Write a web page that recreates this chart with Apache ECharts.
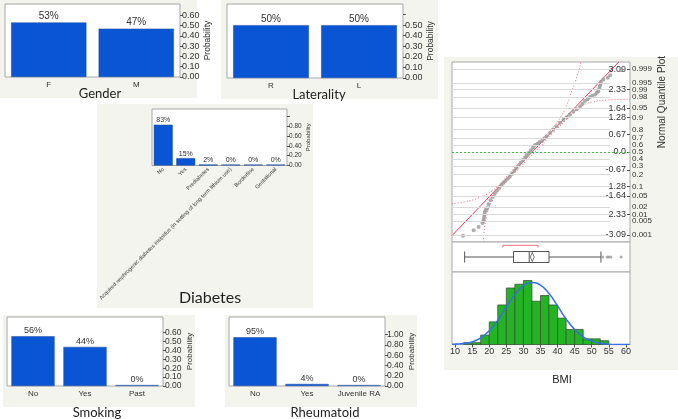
<!DOCTYPE html>
<html>
<head>
<meta charset="utf-8">
<script src="https://cdn.jsdelivr.net/npm/echarts@6/dist/echarts.min.js"></script>
<style>
  html, body { margin: 0; padding: 0; background: #fff; }
  #chart { width: 678px; height: 419px; }
</style>
</head>
<body>
<div id="chart"></div>
<script>
// ---- bar panels: share of patients per category ----
const genderCats = ['F', 'M'];
const genderVals = [0.53, 0.47];
const lateralityCats = ['R', 'L'];
const lateralityVals = [0.50, 0.50];
const diabetesCats = ['No', 'Yes', 'Prediabetes',
  'Acquired nephrogenic diabetes insipidus (in setting of long term lithium use)',
  'Borderline', 'Gestational'];
const diabetesVals = [0.83, 0.15, 0.02, 0, 0, 0];
const smokingCats = ['No', 'Yes', 'Past'];
const smokingVals = [0.56, 0.44, 0];
const rheumCats = ['No', 'Yes', 'Juvenile RA'];
const rheumVals = [0.95, 0.04, 0];

// ---- BMI distribution ----
const bmiTicks = [10, 15, 20, 25, 30, 35, 40, 45, 50, 55, 60];
const binWidth = 2.5;
const binStarts = [12.5, 15, 17.5, 20, 22.5, 25, 27.5, 30, 32.5, 35, 37.5, 40, 42.5, 45, 47.5, 50, 52.5];
const binCounts = [1, 1, 5, 12, 21, 30, 32, 34, 23, 26, 21, 14, 8, 8, 3, 3, 2];
// fitted normal curve (x, height in count units)
const curveX = [9.1, 10, 12.5, 15, 17.5, 20, 22.5, 25, 27.5, 30, 32.5, 35, 37.5, 40, 42.5, 45, 47.5, 50, 52.5, 55, 57.5, 61.2];
const curveY = [0.1, 0.2, 0.5, 1.4, 3.5, 7.3, 12.9, 20, 26.5, 31.3, 32.9, 31.5, 27.1, 20.5, 13.5, 8, 4.1, 1.9, 0.7, 0.2, 0.05, 0];
// outlier box plot
const boxStats = [12.8, 27.1, 31.7, 37.5, 52.7];
const bmiMean = 32.6;
const boxOutliers = [53.2, 54.5, 55.0, 55.6, 58.6];
const shortestHalf = [24.0, 34.3];

// normal quantile plot: sorted BMI vs normal quantile
const qqBmi = [12.3, 15.45, 16.9, 18.0, 18.3, 18.4, 18.5, 18.6, 18.7, 19.0, 19.3, 19.8, 20.4, 21.0, 21.6, 22.2, 22.9, 23.5,
  24.1, 24.7, 25.4, 26.0, 26.6, 27.3, 27.9, 28.6, 29.2, 29.9, 30.5, 31.0, 31.6, 32.2, 32.8, 33.4, 34.1, 34.7, 35.35,
  36.1, 36.8, 37.8, 38.75, 39.7, 40.7, 41.7, 42.7, 43.6, 44.6, 45.6, 46.6, 47.3, 48.0, 48.8, 49.5, 50.2, 51.0, 51.5,
  51.9, 52.2, 52.4, 52.6, 52.7, 53.4, 54.7, 55.4, 58.6];
const qqZ = [-3.13, -2.92, -2.80, -2.65, -2.58, -2.50, -2.42, -2.33, -2.24, -2.17, -2.10, -1.95, -1.80, -1.67, -1.55, -1.45, -1.34, -1.24,
  -1.16, -1.08, -1.00, -0.92, -0.82, -0.71, -0.61, -0.50, -0.40, -0.30, -0.20, -0.11, -0.03, 0.07, 0.16, 0.26, 0.31, 0.36, 0.40,
  0.50, 0.59, 0.72, 0.84, 0.96, 1.09, 1.20, 1.30, 1.40, 1.50, 1.60, 1.71, 1.80, 1.90, 1.97, 2.05, 2.10, 2.15, 2.21,
  2.27, 2.37, 2.46, 2.54, 2.62, 2.71, 2.77, 2.87, 3.05];
const refLine = [[9.1, -3.12], [57.9, 3.36]];
const bandUpper = [[9.0, -1.92], [12.9, -1.86], [16.8, -1.71], [20.7, -1.46], [23.3, -1.17], [25.9, -0.80], [30.0, -0.24],
  [34.3, 0.33], [38.9, 0.95], [41.3, 1.39], [42.9, 1.82], [44.1, 2.26], [45.4, 2.70], [46.3, 3.07], [46.9, 3.38]];
const bandLower = [[18.3, -3.36], [18.6, -2.86], [19.3, -2.36], [20.7, -1.86], [22.9, -1.42], [25.9, -0.99], [30.7, -0.36],
  [34.9, 0.20], [39.1, 0.76], [43.0, 1.26], [45.0, 1.51], [46.8, 1.70], [50.0, 1.86], [54.8, 1.94], [61.2, 1.97]];
const quantTicks = [-3.09, -2.33, -1.64, -1.28, -0.67, 0, 0.67, 1.28, 1.64, 2.33, 3.09];
const probLabels = ['0.001', '0.005', '0.01', '0.02', '0.05', '0.1', '0.2', '0.3', '0.4', '0.5',
  '0.6', '0.7', '0.8', '0.9', '0.95', '0.98', '0.99', '0.995', '0.999'];
const probZ = [-3.090, -2.576, -2.326, -2.054, -1.645, -1.282, -0.842, -0.524, -0.253, 0,
  0.253, 0.524, 0.842, 1.282, 1.645, 2.054, 2.326, 2.576, 3.090];

const BLUE = '#0a55d3';
const PANEL = '#f4f4ef';
const FRAME = '#a8a8a8';
const X_MIN = 9.1, X_MAX = 61.2, Z_LIM = 3.36;

const grids = [], xAxes = [], yAxes = [], series = [];

function barPanel(cats, vals, o) {
  const i = grids.length;
  grids.push({ left: o.left, top: o.top, width: o.width, height: o.height, show: true,
    backgroundColor: '#fff', borderColor: FRAME, borderWidth: 1 });
  xAxes.push({ gridIndex: i, type: 'category', data: cats,
    axisLine: { show: false }, axisTick: { show: false },
    axisLabel: { interval: 0, fontSize: o.catFont, color: '#333', margin: o.catMargin, rotate: o.rotate || 0 } });
  yAxes.push({ gridIndex: i, type: 'value', position: 'right', min: 0, max: o.max,
    name: 'Probability', nameLocation: 'middle', nameGap: o.nameGap,
    nameTextStyle: { fontSize: o.nameFont, color: '#333' },
    axisLine: { show: false }, splitLine: { show: false },
    axisTick: { show: true, length: 3, customValues: o.ticks, lineStyle: { color: '#555' } },
    axisLabel: { customValues: o.labels, formatter: v => v.toFixed(2), fontSize: o.tickFont, color: '#333', margin: 2 } });
  series.push({ type: 'bar', xAxisIndex: i, yAxisIndex: i, data: vals,
    barCategoryGap: o.gap, barMinHeight: 1,
    itemStyle: { color: p => p.value === 0 ? '#8fa6d6' : BLUE, borderColor: '#1d48a0', borderWidth: 0.5 },
    label: { show: true, position: 'top', distance: 1, fontSize: o.pctFont, color: '#333',
      formatter: p => Math.round(p.value * 100) + '%' } });
}

barPanel(genderCats, genderVals, { left: 5, top: 4, width: 175, height: 73, max: 0.71,
  ticks: [0, 0.1, 0.2, 0.3, 0.4, 0.5, 0.6], labels: [0, 0.1, 0.2, 0.3, 0.4, 0.5, 0.6],
  gap: '14%', catFont: 8, catMargin: 4, tickFont: 9, nameFont: 8.5, nameGap: 23, pctFont: 10 });
barPanel(lateralityCats, lateralityVals, { left: 227, top: 4, width: 176, height: 74, max: 0.70,
  ticks: [0, 0.1, 0.2, 0.3, 0.4, 0.5, 0.6], labels: [0, 0.1, 0.2, 0.3, 0.4, 0.5],
  gap: '14%', catFont: 8, catMargin: 4, tickFont: 9, nameFont: 8.5, nameGap: 23, pctFont: 10 });
barPanel(diabetesCats, diabetesVals, { left: 152, top: 109, width: 135, height: 56.5, max: 1.15,
  ticks: [0, 0.2, 0.4, 0.6, 0.8, 1.0], labels: [0, 0.2, 0.4, 0.6, 0.8],
  gap: '16%', catFont: 5.5, catMargin: 3, rotate: 45, tickFont: 6.5, nameFont: 6, nameGap: 18, pctFont: 7 });
barPanel(smokingCats, smokingVals, { left: 7, top: 317, width: 156, height: 69, max: 0.776,
  ticks: [0, 0.1, 0.2, 0.3, 0.4, 0.5, 0.6], labels: [0, 0.1, 0.2, 0.3, 0.4, 0.5, 0.6],
  gap: '17%', catFont: 8, catMargin: 4, tickFont: 8.5, nameFont: 8, nameGap: 21, pctFont: 9 });
barPanel(rheumCats, rheumVals, { left: 229, top: 317, width: 156, height: 69, max: 1.345,
  ticks: [0, 0.2, 0.4, 0.6, 0.8, 1.0], labels: [0, 0.2, 0.4, 0.6, 0.8, 1.0],
  gap: '17%', catFont: 8, catMargin: 4, tickFont: 8.5, nameFont: 8, nameGap: 21, pctFont: 9 });

// ---- BMI: quantile plot (grid 5), box plot (grid 6), histogram (grid 7) ----
grids.push({ left: 452, top: 62, width: 178, height: 180, show: true, backgroundColor: '#fff', borderColor: FRAME, borderWidth: 1 });
grids.push({ left: 452, top: 242, width: 178, height: 30, show: true, backgroundColor: '#fff', borderColor: FRAME, borderWidth: 1 });
grids.push({ left: 452, top: 272, width: 178, height: 72.5, show: true, backgroundColor: '#fff', borderColor: FRAME, borderWidth: 1 });

xAxes.push({ gridIndex: 5, type: 'value', min: X_MIN, max: X_MAX, show: false });
xAxes.push({ gridIndex: 6, type: 'value', min: X_MIN, max: X_MAX, show: false });
xAxes.push({ gridIndex: 7, type: 'value', min: X_MIN, max: X_MAX,
  axisLine: { show: false }, splitLine: { show: false },
  axisTick: { show: true, length: 3, customValues: bmiTicks, lineStyle: { color: '#555' } },
  axisLabel: { customValues: bmiTicks, fontSize: 9, color: '#333', margin: 3 } });

// yAxis 5: quantile labels inside, 6: probability labels outside
yAxes.push({ gridIndex: 5, type: 'value', position: 'right', min: -Z_LIM, max: Z_LIM,
  axisLine: { show: false }, splitLine: { show: false },
  axisTick: { show: true, inside: true, length: 3, customValues: quantTicks, lineStyle: { color: '#555' } },
  axisLabel: { inside: true, customValues: quantTicks, margin: 4, fontSize: 9, color: '#333',
    formatter: v => v === 0 ? '0.0' : v.toFixed(2) } });
yAxes.push({ gridIndex: 5, type: 'value', position: 'right', min: -Z_LIM, max: Z_LIM,
  axisLine: { show: false }, splitLine: { show: false }, axisTick: { show: false },
  axisLabel: { customValues: probZ, margin: 2, fontSize: 8, color: '#333',
    formatter: v => {
      let k = 0;
      probZ.forEach((z, j) => { if (Math.abs(z - v) < Math.abs(probZ[k] - v)) k = j; });
      return probLabels[k];
    } } });
yAxes.push({ gridIndex: 6, type: 'category', data: ['BMI'], show: false });   // 7
yAxes.push({ gridIndex: 6, type: 'value', min: 0, max: 1, show: false });       // 8
yAxes.push({ gridIndex: 7, type: 'value', min: 0, max: 38.5, show: false });    // 9

// reference grid lines at probability levels + green line at median
series.push({ type: 'line', xAxisIndex: 5, yAxisIndex: 5, data: [], z: 1,
  markLine: { silent: true, symbol: 'none', label: { show: false }, animation: false,
    lineStyle: { color: '#dadada', width: 1, type: 'solid' },
    data: probZ.filter(z => z !== 0).map(z => [{ coord: [X_MIN, z] }, { coord: [55.4, z] }])
      .concat([[{ coord: [X_MIN, 0], lineStyle: { color: '#3fbf3f', type: [2, 2] } }, { coord: [X_MAX, 0] }]]) } });
series.push({ type: 'line', xAxisIndex: 5, yAxisIndex: 5, data: bandUpper, smooth: true, showSymbol: false, z: 2,
  lineStyle: { color: '#f0607a', width: 1, type: [1, 2] } });
series.push({ type: 'line', xAxisIndex: 5, yAxisIndex: 5, data: bandLower, smooth: true, showSymbol: false, z: 2,
  lineStyle: { color: '#f0607a', width: 1, type: [1, 2] } });
series.push({ type: 'line', xAxisIndex: 5, yAxisIndex: 5, data: refLine, showSymbol: false, z: 3,
  lineStyle: { color: '#ee3a5a', width: 1 } });
series.push({ type: 'scatter', xAxisIndex: 5, yAxisIndex: 5, z: 4,
  data: qqBmi.map((b, j) => [b, qqZ[j]]), symbolSize: 4, itemStyle: { color: '#9a9a9a' } });

// box plot
series.push({ type: 'boxplot', xAxisIndex: 6, yAxisIndex: 7, data: [boxStats], boxWidth: [11, 11],
  itemStyle: { color: '#fff', borderColor: '#555', borderWidth: 1 } });
series.push({ type: 'scatter', xAxisIndex: 6, yAxisIndex: 7, data: [[bmiMean, 0]], symbol: 'diamond',
  symbolSize: [4, 9], itemStyle: { color: '#fff', borderColor: '#444', borderWidth: 1 } });
series.push({ type: 'scatter', xAxisIndex: 6, yAxisIndex: 7, data: boxOutliers.map(v => [v, 0]),
  symbolSize: 3, itemStyle: { color: '#999' } });
series.push({ type: 'line', xAxisIndex: 6, yAxisIndex: 8, showSymbol: false,
  data: [[shortestHalf[0], 0.82], [shortestHalf[0], 0.89], [shortestHalf[1], 0.89], [shortestHalf[1], 0.82]],
  lineStyle: { color: '#f07080', width: 1 } });

// histogram
series.push({ type: 'custom', xAxisIndex: 7, yAxisIndex: 9,
  data: binStarts.map((s, j) => [s, s + binWidth, binCounts[j]]),
  encode: { x: [0, 1], y: 2 },
  renderItem: (params, api) => {
    const p0 = api.coord([api.value(0), api.value(2)]);
    const p1 = api.coord([api.value(1), 0]);
    return { type: 'rect', shape: { x: p0[0], y: p0[1], width: p1[0] - p0[0], height: p1[1] - p0[1] },
      style: { fill: '#22b422', stroke: '#3d553d', lineWidth: 0.8 } };
  } });
series.push({ type: 'line', xAxisIndex: 7, yAxisIndex: 9, data: curveX.map((x, j) => [x, curveY[j]]),
  smooth: true, showSymbol: false, z: 5, lineStyle: { color: '#3a6ee8', width: 1.5 } });

const titleFont = '13px Lato, sans-serif';
const graphics = [
  { type: 'rect', z: -100, shape: { x: 0, y: 0, width: 197, height: 98 }, style: { fill: PANEL } },
  { type: 'rect', z: -100, shape: { x: 221, y: 0, width: 217, height: 99 }, style: { fill: PANEL } },
  { type: 'rect', z: -100, shape: { x: 97, y: 104, width: 216, height: 204 }, style: { fill: PANEL } },
  { type: 'rect', z: -100, shape: { x: 3, y: 315, width: 192, height: 92 }, style: { fill: PANEL } },
  { type: 'rect', z: -100, shape: { x: 225, y: 315, width: 192, height: 92 }, style: { fill: PANEL } },
  { type: 'rect', z: -100, shape: { x: 444, y: 57, width: 234, height: 313 }, style: { fill: PANEL } },
  { type: 'text', z: 100, style: { text: 'Gender', x: 100, y: 94, textAlign: 'center', textVerticalAlign: 'middle', font: titleFont, fill: '#222' } },
  { type: 'text', z: 100, style: { text: 'Laterality', x: 319, y: 95, textAlign: 'center', textVerticalAlign: 'middle', font: titleFont, fill: '#222' } },
  { type: 'text', z: 100, style: { text: 'Diabetes', x: 210, y: 298, textAlign: 'center', textVerticalAlign: 'middle', font: '16px Lato, sans-serif', fill: '#222' } },
  { type: 'text', z: 100, style: { text: 'Smoking', x: 97, y: 413, textAlign: 'center', textVerticalAlign: 'middle', font: titleFont, fill: '#222' } },
  { type: 'text', z: 100, style: { text: 'Rheumatoid', x: 325, y: 413, textAlign: 'center', textVerticalAlign: 'middle', font: titleFont, fill: '#222' } },
  { type: 'text', z: 100, style: { text: 'BMI', x: 562, y: 380, textAlign: 'center', textVerticalAlign: 'middle', font: '11px "Liberation Sans", sans-serif', fill: '#222' } },
  { type: 'text', z: 100, x: 662, y: 102, rotation: Math.PI / 2,
    style: { text: 'Normal Quantile Plot', x: 0, y: 0, textAlign: 'center', textVerticalAlign: 'middle', font: '10px "Liberation Sans", sans-serif', fill: '#333' } }
];

const chart = echarts.init(document.getElementById('chart'));
chart.setOption({
  animation: false,
  textStyle: { fontFamily: '"Liberation Sans", Arial, sans-serif' },
  graphic: { elements: graphics },
  grid: grids,
  xAxis: xAxes,
  yAxis: yAxes,
  series: series
});
</script>
</body>
</html>
